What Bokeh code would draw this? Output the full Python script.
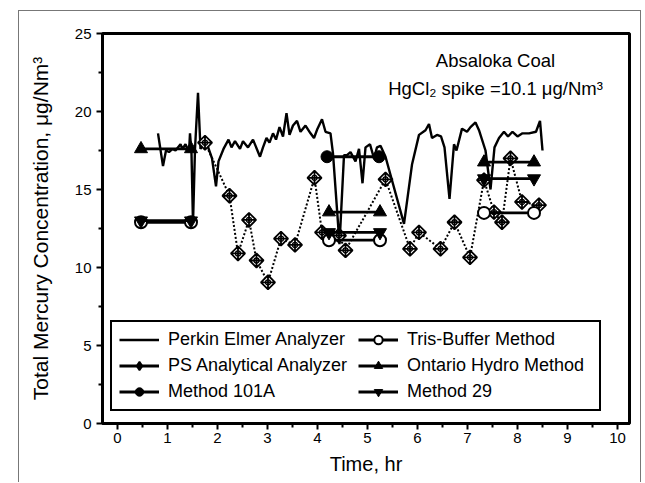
import math
from bokeh.plotting import figure
from bokeh.models import Range1d, FixedTicker, Legend, LegendItem
from bokeh.core.properties import value
from bokeh.embed import file_html
from bokeh.resources import INLINE

FONT = "Liberation Sans"

# Perkin Elmer analyzer (continuous)
pe_time = [0.81, 0.91, 0.97, 1.03, 1.10, 1.16, 1.26, 1.30, 1.36, 1.43, 1.45, 1.48, 1.51, 1.55, 1.61,
           1.66, 1.76, 1.89, 1.97, 2.02, 2.12, 2.22, 2.28, 2.35, 2.45, 2.51, 2.61, 2.71, 2.85, 2.91,
           2.98, 3.04, 3.11, 3.17, 3.24, 3.31, 3.38, 3.44, 3.51, 3.59, 3.66, 3.76, 3.86, 3.93, 4.00,
           4.09, 4.16, 4.26, 4.31, 4.44, 4.53, 4.59, 4.66, 4.76, 4.83, 4.90, 4.96, 5.05, 5.13, 5.19,
           5.26, 5.36, 5.73, 5.89, 6.03, 6.16, 6.23, 6.29, 6.39, 6.47, 6.54, 6.64, 6.73, 6.78, 6.89,
           6.99, 7.06, 7.16, 7.23, 7.36, 7.46, 7.54, 7.63, 7.73, 7.81, 7.90, 8.00, 8.10, 8.23, 8.37,
           8.45, 8.50]
pe_conc = [18.6, 16.5, 17.5, 17.4, 17.6, 17.5, 17.9, 17.6, 17.9, 17.4, 18.6, 17.3, 12.8, 17.6, 21.2,
           17.6, 18.2, 17.0, 15.2, 16.8, 17.6, 18.2, 17.7, 18.1, 17.6, 18.1, 17.7, 18.2, 17.1, 17.7,
           18.3, 18.0, 18.6, 18.2, 19.0, 18.4, 19.9, 18.5, 19.1, 19.4, 18.7, 19.1, 18.6, 18.3, 18.9,
           19.5, 18.7, 18.6, 17.3, 11.5, 17.2, 17.2, 17.4, 16.8, 17.6, 15.4, 17.7, 17.9, 17.0, 17.7,
           17.8, 17.1, 12.8, 16.6, 18.5, 18.8, 19.2, 18.3, 18.5, 18.4, 17.7, 14.4, 17.9, 17.5, 18.9,
           18.7, 19.0, 19.3, 18.8, 17.5, 15.0, 17.7, 18.3, 18.7, 18.4, 18.7, 18.4, 18.6, 18.6, 18.7,
           19.4, 17.5]

# PS Analytical analyzer
ps_time = [1.75, 2.24, 2.41, 2.63, 2.78, 3.01, 3.27, 3.55, 3.94, 4.09, 4.43, 4.56, 5.36, 5.85,
           6.03, 6.46, 6.74, 7.05, 7.33, 7.53, 7.69, 7.86, 8.09, 8.43]
ps_conc = [18.0, 14.6, 10.9, 13.05, 10.45, 9.05, 11.85, 11.45, 15.75, 12.25, 12.05, 11.1, 15.65, 11.2,
           12.25, 11.2, 12.9, 10.65, 15.6, 13.55, 12.9, 17.0, 14.2, 14.0]

# Manual sampling runs (start / end times)
run_start = [0.47, 4.23, 7.33]
run_end = [1.47, 5.25, 8.33]
tris_conc = [12.9, 11.75, 13.5]
ontario_conc = [17.6, 13.55, 16.75]
m29_conc = [13.0, 12.25, 15.7]
m101a_start = [4.19]
m101a_end = [5.23]
m101a_conc = [17.1]

x_ticks = list(range(0, 11))
y_ticks = [0, 5, 10, 15, 20, 25]


def seg_lines(starts, ends, vals):
    xs, ys = [], []
    for s, e, v in zip(starts, ends, vals):
        if xs:
            xs.append(float("nan"))
            ys.append(float("nan"))
        xs += [s, e]
        ys += [v, v]
    return xs, ys


p = figure(width=623, height=472, output_backend="svg", toolbar_location=None,
           x_range=Range1d(-0.3, 10.24), y_range=Range1d(0, 25))
p.styles = {"margin-left": "18px", "margin-top": "10px",
            "border-left": "1px solid #777", "border-top": "1px solid #777",
            "border-right": "1px solid #777"}
p.min_border_left = 83
p.min_border_right = 13
p.min_border_top = 22
p.min_border_bottom = 60
p.xgrid.visible = False
p.ygrid.visible = False
p.outline_line_color = "black"
p.outline_line_width = 3
p.outline_line_alpha = 1

p.xaxis.ticker = FixedTicker(ticks=x_ticks, minor_ticks=[i + 0.5 for i in range(0, 10)])
p.yaxis.ticker = FixedTicker(ticks=y_ticks, minor_ticks=[2.5, 7.5, 12.5, 17.5, 22.5])
for ax in (p.xaxis, p.yaxis):
    ax.axis_line_width = 3
    ax.axis_line_color = "black"
    ax.major_tick_line_width = 2
    ax.minor_tick_line_width = 2
    ax.major_tick_line_color = "black"
    ax.minor_tick_line_color = "black"
    ax.major_tick_in = 0
    ax.major_tick_out = 6
    ax.minor_tick_in = 0
    ax.minor_tick_out = 4
    ax.major_label_text_font = FONT
    ax.major_label_text_font_size = "15px"
    ax.major_label_text_color = "black"
    ax.axis_label_text_font = FONT
    ax.axis_label_text_font_style = "normal"
    ax.axis_label_text_color = "black"
p.xaxis.axis_label_text_font_size = "20px"
p.yaxis.axis_label_text_font_size = "21px"
p.xaxis.axis_label = "Time, hr"
p.yaxis.axis_label = "Total Mercury Concentration, \u03bcg/Nm\u00b3"
p.xaxis.major_label_standoff = 3
p.yaxis.major_label_standoff = 5
p.xaxis.axis_label_standoff = 7
p.yaxis.axis_label_standoff = 20

# Perkin Elmer
r_pe = p.line(pe_time, pe_conc, line_color="black", line_width=2.4)

# PS Analytical
r_ps_line = p.line(ps_time, ps_conc, line_color="black", line_width=2, line_dash="2 2")
r_ps_m = p.scatter(ps_time, ps_conc, marker="square_x", angle=math.pi / 4, size=10,
                   fill_color="white", line_color="black", line_width=1.8)
r_ps_c = p.scatter(ps_time, ps_conc, marker="circle", size=5, fill_alpha=0,
                   line_color="black", line_width=1.3)
# legend key renderers (hidden in the plot, drawn only in the legend)
r_ps_key_l = p.line(ps_time, ps_conc, line_color="black", line_width=2.8, visible=False)
r_ps_key_m = p.scatter(ps_time, ps_conc, marker="diamond_cross", size=14, fill_color="white",
                       line_color="black", line_width=1.8, visible=False)

# Method 101A
mx, my = seg_lines(m101a_start, m101a_end, m101a_conc)
r_101_l = p.line(mx, my, line_color="black", line_width=2.8)
r_101_m = p.scatter(m101a_start + m101a_end, m101a_conc + m101a_conc, marker="circle", size=12,
                    fill_color="black", line_color="black")

# Tris-buffer
tx, ty = seg_lines(run_start, run_end, tris_conc)
r_tr_l = p.line(tx, ty, line_color="black", line_width=2.8)
r_tr_m = p.scatter(run_start + run_end, tris_conc + tris_conc, marker="circle", size=12,
                   fill_color="white", line_color="black", line_width=2)

# Ontario Hydro
ox, oy = seg_lines(run_start, run_end, ontario_conc)
r_oh_l = p.line(ox, oy, line_color="black", line_width=2.8)
r_oh_m = p.scatter(run_start + run_end, ontario_conc + ontario_conc, marker="triangle", size=13,
                   fill_color="black", line_color="black")

# Method 29
nx, ny = seg_lines(run_start, run_end, m29_conc)
r_29_l = p.line(nx, ny, line_color="black", line_width=2.8)
r_29_m = p.scatter(run_start + run_end, m29_conc + m29_conc, marker="inverted_triangle", size=13,
                   fill_color="black", line_color="black")

# annotation
p.text(x=[7.56], y=[23.3], text=["Absaloka Coal"], text_font=value(FONT),
       text_font_size="18.5px", text_align="center", text_baseline="middle", text_color="black")
p.text(x=[7.56], y=[21.5], text=["HgCl\u2082 spike =10.1 \u03bcg/Nm\u00b3"], text_font=value(FONT),
       text_font_size="18.5px", text_align="center", text_baseline="middle", text_color="black")

legend = Legend(items=[
    LegendItem(label="Perkin Elmer Analyzer", renderers=[r_pe]),
    LegendItem(label="PS Analytical Analyzer", renderers=[r_ps_key_l, r_ps_key_m]),
    LegendItem(label="Method 101A", renderers=[r_101_l, r_101_m]),
    LegendItem(label="Tris-Buffer Method", renderers=[r_tr_l, r_tr_m]),
    LegendItem(label="Ontario Hydro Method", renderers=[r_oh_l, r_oh_m]),
    LegendItem(label="Method 29", renderers=[r_29_l, r_29_m]),
], location=(8, 12), orientation="vertical", ncols=2)
legend.label_text_font = FONT
legend.label_text_font_size = "18px"
legend.label_text_color = "black"
legend.border_line_color = "black"
legend.border_line_width = 2.5
legend.border_line_alpha = 1
legend.background_fill_alpha = 1
legend.inactive_fill_alpha = 0
legend.glyph_width = 40
legend.glyph_height = 21
legend.label_height = 21
legend.label_width = 185
legend.label_standoff = 9
legend.spacing = 5
legend.padding = 7
p.add_layout(legend, "center")

open("out.html", "w").write(file_html(p, INLINE))
